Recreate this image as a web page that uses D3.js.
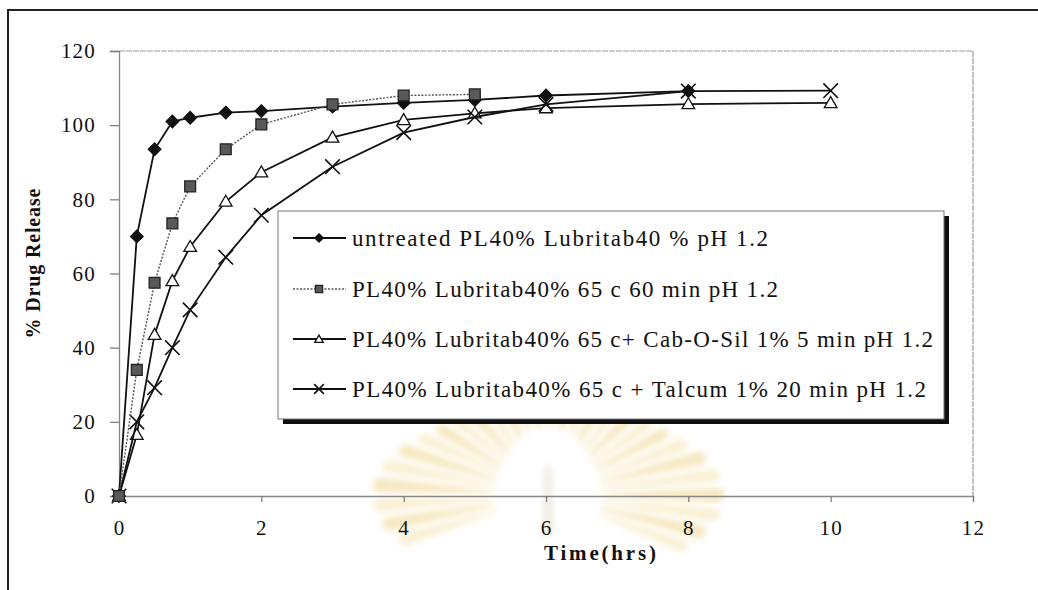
<!DOCTYPE html>
<html>
<head>
<meta charset="utf-8">
<script src="https://cdn.jsdelivr.net/npm/d3@7/dist/d3.min.js"></script>
<style>
  html, body { margin: 0; padding: 0; background: #fff; }
  svg { display: block; }
  text { font-family: "Liberation Serif", "Times New Roman", serif; fill: #111; }
</style>
</head>
<body>
<svg id="chart" width="1038" height="590"></svg>
<script>
// Sampling times (hours)
const times = [0, 0.25, 0.5, 0.75, 1, 1.5, 2, 3, 4, 5, 6, 8, 10];

// % drug release for each formulation
const untreated = [0, 70, 93.5, 101, 102, 103.4, 103.8, 105, 106, 106.8, 108, 109.2];
const heated60 = [0, 34, 57.5, 73.5, 83.5, 93.5, 100.2, 105.6, 108, 108.3];
const cabOSil = [0, 16.5, 43.5, 58, 67.2, 79.4, 87.3, 96.7, 101.4, 103.2, 104.6, 105.7, 106];
const talcum = [0, 20, 29.2, 40, 50.2, 64.4, 75.7, 88.8, 98, 102.2, 105.6, 109.2, 109.3];

const seriesLabels = [
  "untreated PL40% Lubritab40 % pH 1.2",
  "PL40% Lubritab40% 65 c 60 min pH 1.2",
  "PL40% Lubritab40% 65 c+ Cab-O-Sil 1% 5 min pH 1.2",
  "PL40% Lubritab40% 65 c + Talcum 1% 20 min pH 1.2"
];

const yTicks = [0, 20, 40, 60, 80, 100, 120];
const xTicks = [0, 2, 4, 6, 8, 10, 12];

const svg = d3.select("#chart");

const x = d3.scaleLinear().domain([0, 12]).range([119, 973]);
const y = d3.scaleLinear().domain([0, 120]).range([496, 51]);

// faint emblem printed under the lower middle of the page
const emblem = svg.append("g").attr("opacity", 0.34);
const defs = svg.append("defs");
defs.append("filter").attr("id", "soft").append("feGaussianBlur").attr("stdDeviation", 3);
const cx = 548, cy = 495;
const rayAngles = d3.range(-200, 25, 8);
emblem.selectAll("path.ray").data(rayAngles).join("path")
  .attr("class", "ray")
  .attr("filter", "url(#soft)")
  .attr("fill", (d, i) => i % 2 ? "#e6bd4a" : "#f0d584")
  .attr("d", a => {
    const r0 = 55, r1 = 150 + 22 * Math.cos(a * Math.PI / 45);
    const t = a * Math.PI / 180, w = 2.9 * Math.PI / 180;
    const p = (r, ang) => [cx + r * Math.cos(ang), cy + 0.85 * r * Math.sin(ang)];
    const pts = [p(r0, t - w * 0.6), p(r1, t - w), p(r1 + 6, t), p(r1, t + w), p(r0, t + w * 0.6)];
    return "M" + pts.map(q => q.join(",")).join("L") + "Z";
  });
emblem.append("ellipse").attr("cx", cx).attr("cy", cy - 5).attr("rx", 48).attr("ry", 64)
  .attr("fill", "#fff").attr("filter", "url(#soft)");
emblem.append("path")
  .attr("d", `M${cx - 6},${cy + 40} L${cx - 4},${cy - 22} Q${cx},${cy - 40} ${cx + 4},${cy - 22} L${cx + 6},${cy + 40} Z`)
  .attr("fill", "#d8cdb0").attr("filter", "url(#soft)");

// outer frame
svg.append("rect").attr("x", 8).attr("y", 10).attr("width", 1100).attr("height", 700)
  .attr("fill", "none").attr("stroke", "#222").attr("stroke-width", 2);

// plot area border (top and right)
svg.append("path")
  .attr("d", `M${x(0)},${y(120)}H${x(12)}V${y(0)}`)
  .attr("fill", "none").attr("stroke", "#999").attr("stroke-width", 1.2)
  .attr("stroke-dasharray", "6,1");

// axes
const yAxis = svg.append("g").attr("transform", `translate(${x(0)},0)`)
  .call(d3.axisLeft(y).tickValues(yTicks).tickSize(9).tickPadding(14).tickFormat(d3.format("d")));
const xAxis = svg.append("g").attr("transform", `translate(0,${y(0)})`)
  .call(d3.axisBottom(x).tickValues(xTicks).tickSize(6).tickPadding(18).tickFormat(d3.format("d")));
[yAxis, xAxis].forEach(g => {
  g.select(".domain").attr("stroke", "#888").attr("stroke-width", 1.3);
  g.selectAll(".tick line").attr("stroke", "#777").attr("stroke-width", 1.2);
  g.selectAll(".tick text").attr("font-size", 21).attr("letter-spacing", 1.2)
    .attr("font-family", "Liberation Serif").attr("fill", "#111");
});

// axis titles
svg.append("text")
  .attr("transform", `translate(40,${(y(0) + y(120)) / 2 - 10}) rotate(-90)`)
  .attr("text-anchor", "middle").attr("font-size", 20).attr("font-weight", "bold")
  .attr("textLength", 150).attr("lengthAdjust", "spacing")
  .text("% Drug Release");
svg.append("text")
  .attr("x", 544).attr("y", 560)
  .attr("font-size", 21).attr("font-weight", "bold")
  .attr("textLength", 112).attr("lengthAdjust", "spacing")
  .text("Time(hrs)");

// marker shapes
const markerStyles = [
  { sym: d3.symbolDiamond2, size: 100, fill: "#111", stroke: "#111", line: "#111", dash: null },
  { sym: d3.symbolSquare2, size: 150, fill: "#595959", stroke: "#222", line: "#555", dash: "2,1.5" },
  { sym: d3.symbolTriangle2, size: 115, fill: "#fff", stroke: "#111", line: "#111", dash: null },
  { sym: d3.symbolTimes, size: 140, fill: "none", stroke: "#111", line: "#111", dash: null }
];

const seriesData = [untreated, heated60, cabOSil, talcum].map((vals, i) => ({
  i,
  points: vals.map((v, k) => ({ t: times[k], v }))
}));

const line = d3.line().x(d => x(d.t)).y(d => y(d.v));

function drawMarker(g, st, px, py, scale) {
  const s = d3.symbol(st.sym, st.size * scale);
  const dy = st.sym === d3.symbolTriangle2 ? 1 : 0;
  return g.append("path").attr("d", s()).attr("transform", `translate(${px},${py + dy})`)
    .attr("fill", st.fill).attr("stroke", st.stroke)
    .attr("stroke-width", st.sym === d3.symbolTimes ? 1.6 : 1.3);
}

// draw order keeps the grey squares on top
const order = [0, 2, 3, 1];
order.forEach(i => {
  const s = seriesData[i], st = markerStyles[i];
  const g = svg.append("g");
  g.append("path").datum(s.points).attr("d", line)
    .attr("fill", "none").attr("stroke", st.line)
    .attr("stroke-width", i === 1 ? 1.4 : 1.8)
    .attr("stroke-dasharray", st.dash);
  s.points.forEach(d => drawMarker(g, st, x(d.t), y(d.v), 1));
});

// legend
const legX = 278, legY = 211, legW = 666, legH = 208;
svg.append("rect").attr("x", legX + 5).attr("y", legY + 5).attr("width", legW).attr("height", legH)
  .attr("fill", "#111");
svg.append("rect").attr("x", legX).attr("y", legY).attr("width", legW).attr("height", legH)
  .attr("fill", "#fff").attr("stroke", "#777").attr("stroke-width", 1);

const rowY = [238, 289, 339, 389];
const textLens = [416, 426, 581, 574];
seriesLabels.forEach((lab, i) => {
  const st = markerStyles[i];
  const g = svg.append("g");
  g.append("line").attr("x1", 293).attr("x2", 346).attr("y1", rowY[i]).attr("y2", rowY[i])
    .attr("stroke", st.line).attr("stroke-width", i === 1 ? 1.4 : 1.8)
    .attr("stroke-dasharray", st.dash);
  drawMarker(g, st, 319, rowY[i], 0.45);
  g.append("text").attr("x", 352).attr("y", rowY[i] + 7.5)
    .attr("font-size", 23).attr("textLength", textLens[i]).attr("lengthAdjust", "spacing")
    .text(lab);
});
</script>
</body>
</html>
